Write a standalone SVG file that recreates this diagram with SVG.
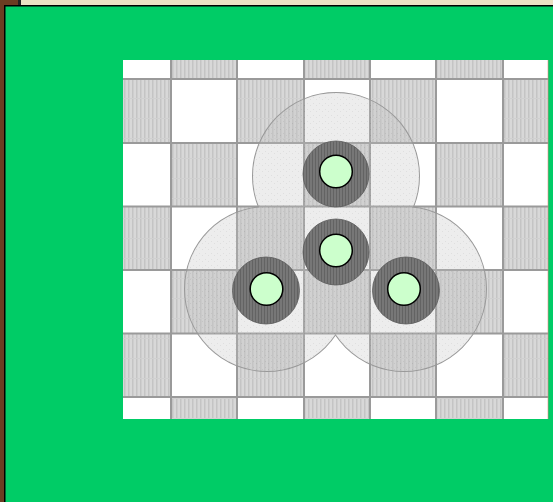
<svg xmlns="http://www.w3.org/2000/svg" width="553" height="502" viewBox="0 0 553 502">
<defs>
<pattern id="stripe" width="4" height="20" patternUnits="userSpaceOnUse">
<rect width="4" height="20" fill="#d8d8d8"/>
<rect x="0" width="1.5" height="20" fill="#c4c4c4"/>
<rect y="18" width="4" height="1" fill="#d0d0d0"/>
</pattern>
<pattern id="ringstripe" width="3" height="10" patternUnits="userSpaceOnUse">
<rect width="3" height="10" fill="#777"/>
<rect width="1" height="10" fill="#636363"/>
</pattern>
<pattern id="stip" width="6" height="6" patternUnits="userSpaceOnUse">
<rect width="6" height="6" fill="#c4c4c4"/>
<rect x="1" y="1" width="1" height="1" fill="#999"/>
<rect x="4" y="3" width="1" height="1" fill="#999"/>
</pattern>
<mask id="outer" maskUnits="userSpaceOnUse" x="0" y="0" width="553" height="502">
<rect width="553" height="502" fill="#fff"/>
<circle cx="336" cy="176" r="83" fill="#000"/>
<circle cx="267" cy="289" r="82" fill="#000"/>
<circle cx="404" cy="289" r="82" fill="#000"/>
</mask>
</defs>
<style>
.g{fill:url(#stripe)}
.ring{fill:url(#ringstripe);stroke:#5a5a5a;stroke-width:0.8}
.core{fill:#ccffcc;stroke:#000;stroke-width:1.5}
.grid{stroke:#9a9a9a;stroke-width:2;fill:none}
.zone{fill:url(#stip)}
.edge{fill:none;stroke:#999;stroke-width:2}
</style>
<rect width="553" height="502" fill="#ebe2c4"/>
<rect x="0" y="0" width="5" height="502" fill="#6b3d22"/>
<rect x="0" y="0" width="18" height="6" fill="#6b3d22"/>
<rect x="18" y="0" width="3" height="6" fill="#222"/>
<rect x="4" y="5" width="549" height="497" fill="#000"/>
<rect x="5.5" y="6.5" width="547.5" height="495.5" fill="#00cc66"/>
<g id="board">
<rect x="123" y="60" width="425" height="359" fill="#fff"/>
<g class="g">
<rect x="171" y="60" width="66" height="19"/>
<rect x="304" y="60" width="66" height="19"/>
<rect x="436" y="60" width="67" height="19"/>
<rect x="123" y="79" width="48" height="64"/>
<rect x="237" y="79" width="67" height="64"/>
<rect x="370" y="79" width="66" height="64"/>
<rect x="503" y="79" width="45" height="64"/>
<rect x="171" y="143" width="66" height="63"/>
<rect x="304" y="143" width="66" height="63"/>
<rect x="436" y="143" width="67" height="63"/>
<rect x="123" y="206" width="48" height="64"/>
<rect x="237" y="206" width="67" height="64"/>
<rect x="370" y="206" width="66" height="64"/>
<rect x="503" y="206" width="45" height="64"/>
<rect x="171" y="270" width="66" height="63"/>
<rect x="304" y="270" width="66" height="63"/>
<rect x="436" y="270" width="67" height="63"/>
<rect x="123" y="333" width="48" height="64"/>
<rect x="237" y="333" width="67" height="64"/>
<rect x="370" y="333" width="66" height="64"/>
<rect x="503" y="333" width="45" height="64"/>
<rect x="171" y="397" width="66" height="22"/>
<rect x="304" y="397" width="66" height="22"/>
<rect x="436" y="397" width="67" height="22"/>
</g>
<path class="grid" d="M171 60V419M237 60V419M304 60V419M370 60V419M436 60V419M503 60V419M123 79H548M123 143H548M123 206.5H548M123 270H548M123 333.5H548M123 397H548"/>
<line x1="548" y1="60" x2="548" y2="419" stroke="#f08080" stroke-width="1" opacity="0.6"/>
</g>
<g id="zones">
<g opacity="0.3">
<circle class="zone" cx="336" cy="176" r="83"/>
<circle class="zone" cx="267" cy="289" r="82"/>
<circle class="zone" cx="404" cy="289" r="82"/>
</g>
<g mask="url(#outer)">
<circle class="edge" cx="336" cy="176" r="83"/>
<circle class="edge" cx="267" cy="289" r="82"/>
<circle class="edge" cx="404" cy="289" r="82"/>
</g>
</g>
<g id="node-top"><circle class="ring" cx="336" cy="174" r="33"/><circle class="core" cx="336" cy="171.5" r="16.3"/></g>
<g id="node-center"><circle class="ring" cx="336" cy="252" r="33"/><circle class="core" cx="336" cy="250.5" r="16.3"/></g>
<g id="node-left"><circle class="ring" cx="266" cy="290.5" r="33.5"/><circle class="core" cx="266.5" cy="289" r="16.3"/></g>
<g id="node-right"><circle class="ring" cx="406" cy="290.5" r="33.5"/><circle class="core" cx="404" cy="289" r="16.3"/></g>
<g id="connectors"/>
</svg>
